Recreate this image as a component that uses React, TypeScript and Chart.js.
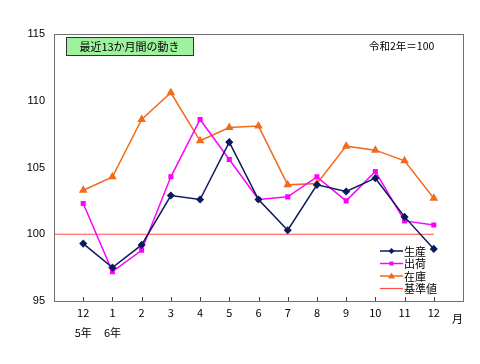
import React, { useEffect, useRef } from "react";
import { Chart, registerables } from "chart.js";

Chart.register(...registerables);

const months = ["12", "1", "2", "3", "4", "5", "6", "7", "8", "9", "10", "11", "12"];
const yearLabels = ["5年", "6年", "", "", "", "", "", "", "", "", "", "", ""];
const production = [99.3, 97.5, 99.2, 102.9, 102.6, 106.9, 102.6, 100.3, 103.7, 103.2, 104.2, 101.3, 98.9];
const shipments = [102.3, 97.2, 98.8, 104.3, 108.6, 105.6, 102.6, 102.8, 104.3, 102.5, 104.7, 101.0, 100.7];
const inventory = [103.3, 104.3, 108.6, 110.6, 107.0, 108.0, 108.1, 103.7, 103.8, 106.6, 106.3, 105.5, 102.7];
const baseX = [-1, 12];
const baseY = [100, 100];
const yTicks = [95, 100, 105, 110, 115];
const seriesNames = ["生産", "出荷", "在庫", "基準値"];
const titleText = "最近13か月間の動き";
const unitText = "令和2年＝100";
const monthUnit = "月";

const NAVY = "#0a1a5c";
const MAGENTA = "#ff00ff";
const ORANGE = "#f26b1d";
const RED = "#ff4a4a";

const CJK = "'Noto Sans CJK JP', 'Noto Sans', sans-serif";
const NUM = "'Liberation Sans', Arial, sans-serif";

const decorPlugin = {
  id: "decor",
  afterDraw(chart: any) {
    const { ctx, chartArea, scales } = chart;
    const { left, right, top, bottom } = chartArea;
    ctx.save();
    // frame
    ctx.strokeStyle = "#707070";
    ctx.lineWidth = 1;
    ctx.strokeRect(left + 0.5, top + 0.5, right - left, bottom - top);
    // inside tick marks on x axis
    ctx.strokeStyle = "#404040";
    months.forEach((_, i) => {
      const x = Math.round(scales.x.getPixelForValue(i)) + 0.5;
      ctx.beginPath();
      ctx.moveTo(x, bottom);
      ctx.lineTo(x, bottom - 4);
      ctx.stroke();
    });
    // title box
    const bx = 66, by = 37, bw = 127, bh = 18;
    ctx.fillStyle = "#9ef29e";
    ctx.fillRect(bx, by, bw, bh);
    ctx.strokeStyle = "#333333";
    ctx.strokeRect(bx + 0.5, by + 0.5, bw, bh);
    ctx.fillStyle = "#000";
    ctx.font = `11px ${CJK}`;
    ctx.textAlign = "center";
    ctx.textBaseline = "middle";
    ctx.fillText(titleText, bx + bw / 2, by + bh / 2 + 1);
    // unit text
    ctx.textAlign = "left";
    ctx.font = `10.5px ${CJK}`;
    ctx.fillText(unitText, 369, 46);
    // month unit
    ctx.font = `11px ${CJK}`;
    ctx.fillText(monthUnit, 452, 319);
    // legend
    const rows = [251, 263.5, 276, 288.5];
    chart.data.datasets.forEach((ds: any, i: number) => {
      const y = rows[i];
      ctx.strokeStyle = ds.borderColor;
      ctx.lineWidth = ds.borderWidth || 1.5;
      ctx.beginPath();
      ctx.moveTo(380, y);
      ctx.lineTo(403, y);
      ctx.stroke();
      if (ds.pointRadius > 0) {
        ctx.fillStyle = ds.pointBackgroundColor;
        const cx = 391.5;
        const r = ds.pointRadius;
        ctx.beginPath();
        if (ds.pointStyle === "rectRot") {
          ctx.moveTo(cx, y - r);
          ctx.lineTo(cx + r, y);
          ctx.lineTo(cx, y + r);
          ctx.lineTo(cx - r, y);
        } else if (ds.pointStyle === "rect") {
          ctx.rect(cx - r * 0.8, y - r * 0.8, r * 1.6, r * 1.6);
        } else {
          ctx.moveTo(cx, y - r);
          ctx.lineTo(cx + r, y + r * 0.7);
          ctx.lineTo(cx - r, y + r * 0.7);
        }
        ctx.closePath();
        ctx.fill();
      }
      ctx.fillStyle = "#000";
      ctx.font = `11px ${CJK}`;
      ctx.textAlign = "left";
      ctx.textBaseline = "middle";
      ctx.fillText(seriesNames[i], 404, y + 0.5);
    });
    ctx.restore();
  },
};

export default function App() {
  const ref = useRef<HTMLCanvasElement | null>(null);
  useEffect(() => {
    if (!ref.current) return;
    const toPts = (arr: number[]) => arr.map((v, i) => ({ x: i, y: v }));
    const chart = new Chart(ref.current, {
      type: "line",
      data: {
        datasets: [
          {
            label: seriesNames[0],
            data: toPts(production),
            borderColor: NAVY,
            backgroundColor: NAVY,
            pointBackgroundColor: NAVY,
            pointBorderColor: NAVY,
            pointStyle: "rectRot",
            pointRadius: 3,
            borderWidth: 1.5,
          },
          {
            label: seriesNames[1],
            data: toPts(shipments),
            borderColor: MAGENTA,
            backgroundColor: MAGENTA,
            pointBackgroundColor: MAGENTA,
            pointBorderColor: MAGENTA,
            pointStyle: "rect",
            pointRadius: 2.5,
            borderWidth: 1.5,
          },
          {
            label: seriesNames[2],
            data: toPts(inventory),
            borderColor: ORANGE,
            backgroundColor: ORANGE,
            pointBackgroundColor: ORANGE,
            pointBorderColor: ORANGE,
            pointStyle: "triangle",
            pointRadius: 3.5,
            borderWidth: 1.5,
          },
          {
            label: seriesNames[3],
            data: baseX.map((x, i) => ({ x, y: baseY[i] })),
            borderColor: RED,
            backgroundColor: RED,
            pointRadius: 0,
            borderWidth: 1.2,
          },
        ],
      } as any,
      options: {
        responsive: false,
        animation: false,
        layout: { padding: { top: 34, right: 17, left: 0, bottom: 0 } },
        plugins: { legend: { display: false }, tooltip: { enabled: false }, title: { display: false } },
        elements: { line: { tension: 0 } },
        scales: {
          x: {
            type: "linear",
            min: -1,
            max: 13,
            afterBuildTicks: (scale: any) => {
              scale.ticks = months.map((_, i) => ({ value: i }));
            },
            afterFit: (scale: any) => {
              scale.height = 63;
            },
            grid: { display: false, drawTicks: false },
            border: { display: true, color: "#505050" },
            ticks: {
              padding: 2,
              color: "#000",
              maxRotation: 0,
              autoSkip: false,
              font: { family: CJK, size: 11, lineHeight: 1.8 },
              callback: (v: any) => {
                const i = Number(v);
                if (i < 0 || i > 12) return "";
                return yearLabels[i] ? [months[i], yearLabels[i]] : months[i];
              },
            },
          },
          y: {
            min: 95,
            max: 115,
            afterBuildTicks: (scale: any) => {
              scale.ticks = yTicks.map((v) => ({ value: v }));
            },
            afterFit: (scale: any) => {
              scale.width = 54;
            },
            grid: { display: false, drawTicks: false },
            border: { display: true, color: "#505050" },
            ticks: {
              padding: 9,
              color: "#000",
              font: { family: NUM, size: 11 },
            },
          },
        },
      },
      plugins: [decorPlugin],
    } as any);
    return () => chart.destroy();
  }, []);
  return (
    <div style={{ position: "fixed", left: 0, top: 0, width: 480, height: 364, background: "#fff" }}>
      <canvas ref={ref} width={480} height={364} style={{ display: "block" }} />
    </div>
  );
}
